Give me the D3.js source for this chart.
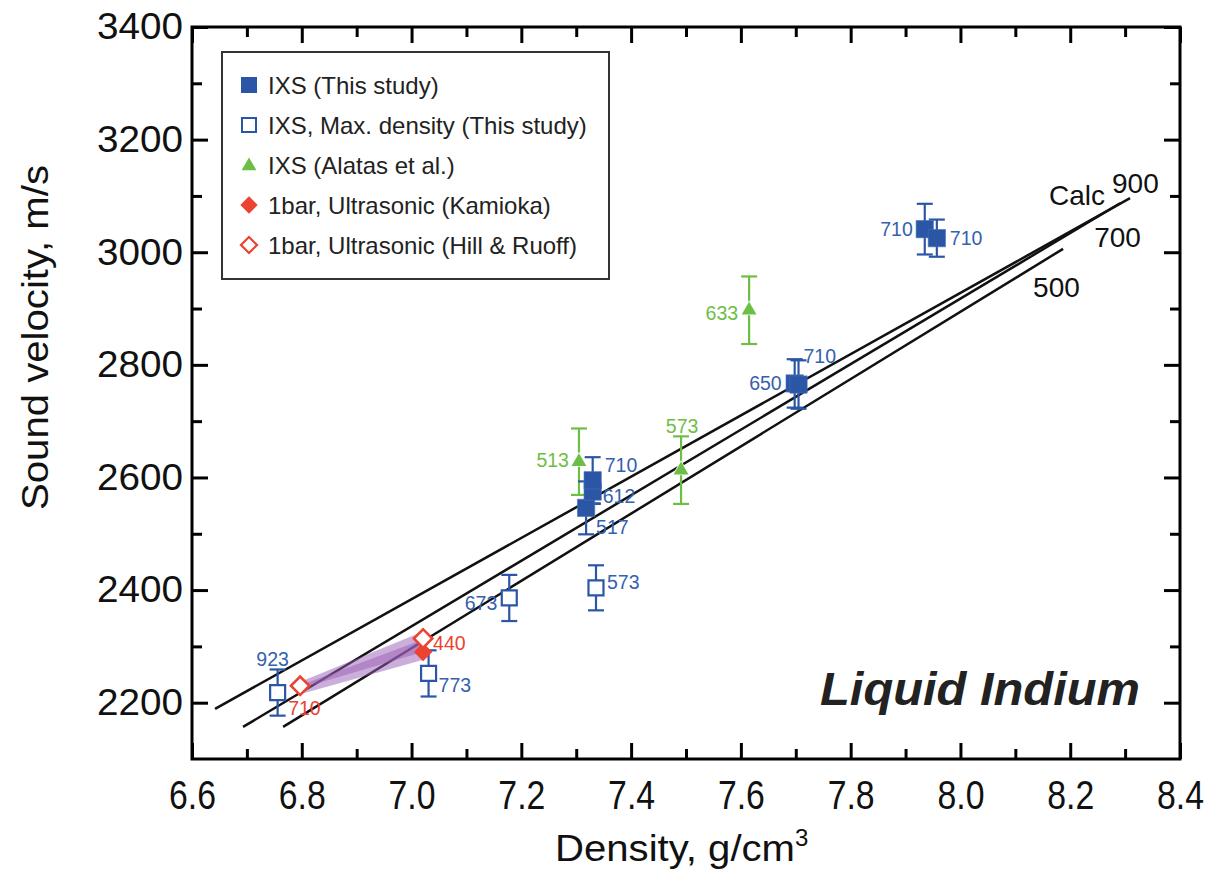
<!DOCTYPE html>
<html>
<head>
<meta charset="utf-8">
<script src="https://cdn.jsdelivr.net/npm/d3@7"></script>
<style>
  html, body { margin: 0; padding: 0; background: #fff; }
  svg { display: block; font-family: "Liberation Sans", Arial, Helvetica, sans-serif; }
</style>
</head>
<body>
<svg id="chart" width="1218" height="873"></svg>
<script>
// ---------------- DATA ----------------
const xMajorTicks = [6.6, 6.8, 7.0, 7.2, 7.4, 7.6, 7.8, 8.0, 8.2, 8.4];
const xMinorTicks = [6.7, 6.9, 7.1, 7.3, 7.5, 7.7, 7.9, 8.1, 8.3];
const yMajorTicks = [2200, 2400, 2600, 2800, 3000, 3200, 3400];
const yMinorTicks = [2300, 2500, 2700, 2900, 3100, 3300];

// IXS (This study) - filled squares
const ixsDensity  = [7.318, 7.330, 7.330, 7.698, 7.705, 7.935, 7.957];
const ixsVelocity = [2546, 2575, 2595, 2767, 2765, 3041, 3025];
const ixsError    = [47, 22, 41, 43, 43, 45, 33];
const ixsTemp     = ["517", "612", "710", "650", "710", "710", "710"];

// IXS, Max. density (This study) - open squares
const maxDensity  = [6.756, 7.031, 7.178, 7.336];
const maxVelocity = [2218, 2252, 2386, 2404];
const maxError    = [41, 41, 41, 40];
const maxTemp     = ["923", "773", "673", "573"];

// IXS (Alatas et al.) - triangles
const alatasDensity  = [7.305, 7.491, 7.615];
const alatasVelocity = [2628, 2613, 2897];
const alatasError    = [59, 60, 60];
const alatasTemp     = ["513", "573", "633"];

// 1bar ultrasonic (Kamioka) - filled diamond + band
const kamiokaDensity  = [7.021];
const kamiokaVelocity = [2290];
const bandDensity = [6.80, 7.02];
const bandAUpper  = [2238, 2326];
const bandALower  = [2226, 2290];
const bandBUpper  = [2232, 2312];
const bandBLower  = [2216, 2276];

// 1bar ultrasonic (Hill & Ruoff) - open diamonds
const hillDensity  = [6.797, 7.021];
const hillVelocity = [2230, 2314];
const hillTemp     = ["710", "440"];

// Calculated lines (temperature labels)
const calcTemps    = ["900", "700", "500"];
const calcStartD   = [6.642, 6.693, 6.766];
const calcStartV   = [2189, 2157, 2157];
const calcEndD     = [8.309, 8.291, 8.187];
const calcEndV     = [3096, 3087, 3006];

const legendLabels = [
  "IXS (This study)",
  "IXS, Max. density (This study)",
  "IXS (Alatas et al.)",
  "1bar, Ultrasonic (Kamioka)",
  "1bar, Ultrasonic (Hill & Ruoff)"
];

// ---------------- LAYOUT / STYLE ----------------
const BLUE = "#2b56a5", BLUE_TXT = "#3461ae", GREEN = "#6dbe45", RED = "#ec4232", PURPLE = "#9a5db6";
const ixsLabelPos    = [[10, 19, "start"], [10, 5, "start"], [12, -15, "start"], [-13, 0, "end"], [5, -28, "start"], [-12, 0, "end"], [13, 0, "start"]];
const maxLabelPos    = [[-5, -33, "middle"], [10, 12, "start"], [-12, 5, "end"], [11, -6, "start"]];
const alatasLabelPos = [[-10, -2, "end"], [1, -44, "middle"], [-11, 3, "end"]];
const hillLabelPos   = [[-12, 22, "start"], [10, 5, "start"]];

const svg = d3.select("#chart");
const x = d3.scaleLinear().domain([6.6, 8.4]).range([192, 1180]);
const y = d3.scaleLinear().domain([2100, 3400]).range([759, 27]);
const X0 = 192, X1 = 1180, Y0 = 27, Y1 = 759;

// ---------------- AXES ----------------
function styleAxis(g) {
  g.select(".domain").remove();
  g.selectAll(".tick line").attr("stroke", "#000").attr("stroke-width", 3);
}
const gxb = svg.append("g").attr("transform", `translate(0,${Y1})`)
  .call(d3.axisBottom(x).tickValues(xMajorTicks).tickSize(-16).tickPadding(22).tickFormat(d3.format(".1f")));
styleAxis(gxb);
gxb.selectAll("text").attr("font-size", 40).attr("fill", "#111")
  .attr("textLength", 47).attr("lengthAdjust", "spacingAndGlyphs")
  .attr("font-family", "'Liberation Sans', Arial, sans-serif");
svg.append("g").attr("transform", `translate(0,${Y1})`)
  .call(d3.axisBottom(x).tickValues(xMinorTicks).tickSize(-10).tickFormat(""))
  .call(styleAxis);
svg.append("g").attr("transform", `translate(0,${Y0})`)
  .call(d3.axisTop(x).tickValues(xMajorTicks).tickSize(-16).tickFormat("")).call(styleAxis);
svg.append("g").attr("transform", `translate(0,${Y0})`)
  .call(d3.axisTop(x).tickValues(xMinorTicks).tickSize(-10).tickFormat("")).call(styleAxis);
const gyl = svg.append("g").attr("transform", `translate(${X0},0)`)
  .call(d3.axisLeft(y).tickValues(yMajorTicks).tickSize(-16).tickPadding(9).tickFormat(d3.format("d")));
styleAxis(gyl);
gyl.selectAll("text").attr("font-size", 37).attr("fill", "#111")
  .attr("textLength", 86).attr("lengthAdjust", "spacingAndGlyphs")
  .attr("font-family", "'Liberation Sans', Arial, sans-serif");
svg.append("g").attr("transform", `translate(${X0},0)`)
  .call(d3.axisLeft(y).tickValues(yMinorTicks).tickSize(-10).tickFormat("")).call(styleAxis);
svg.append("g").attr("transform", `translate(${X1},0)`)
  .call(d3.axisRight(y).tickValues(yMajorTicks).tickSize(-16).tickFormat("")).call(styleAxis);
svg.append("g").attr("transform", `translate(${X1},0)`)
  .call(d3.axisRight(y).tickValues(yMinorTicks).tickSize(-10).tickFormat("")).call(styleAxis);

svg.append("rect").attr("x", X0).attr("y", Y0).attr("width", X1 - X0).attr("height", Y1 - Y0)
  .attr("fill", "none").attr("stroke", "#000").attr("stroke-width", 3);

svg.append("text").attr("transform", `translate(48,${(165 + 510) / 2}) rotate(-90)`)
  .attr("text-anchor", "middle").attr("font-size", 37).attr("fill", "#111")
  .attr("textLength", 345).attr("lengthAdjust", "spacingAndGlyphs")
  .text("Sound velocity, m/s");
const xt = svg.append("text").attr("x", 555).attr("y", 861).attr("font-size", 37).attr("fill", "#111");
xt.append("tspan").text("Density, g/cm").attr("textLength", 240).attr("lengthAdjust", "spacingAndGlyphs");
xt.append("tspan").text("3").attr("font-size", 24).attr("dy", -15);

// ---------------- CALC LINES ----------------
const gCalc = svg.append("g");
calcTemps.forEach((t, i) => {
  gCalc.append("line")
    .attr("x1", x(calcStartD[i])).attr("y1", y(calcStartV[i]))
    .attr("x2", x(calcEndD[i])).attr("y2", y(calcEndV[i]))
    .attr("stroke", "#111").attr("stroke-width", 2.5);
});
const calcLabelOff = [[-18, -5], [-26, 44], [-30, 48]];
calcTemps.forEach((t, i) => {
  gCalc.append("text").attr("x", x(calcEndD[i]) + calcLabelOff[i][0]).attr("y", y(calcEndV[i]) + calcLabelOff[i][1])
    .attr("font-size", 28).attr("fill", "#111").text(t);
});
gCalc.append("text").attr("x", x(calcEndD[0]) - 81).attr("y", y(calcEndV[0]) + 7)
  .attr("font-size", 28).attr("fill", "#111").text("Calc");

// ---------------- KAMIOKA BAND ----------------
const area = (lo, hi) => d3.area().x((d, i) => x(bandDensity[i])).y0((d, i) => y(lo[i])).y1((d, i) => y(hi[i]))(bandDensity);
svg.append("path").attr("d", area(bandALower, bandAUpper)).attr("fill", PURPLE).attr("fill-opacity", 0.5);
svg.append("path").attr("d", area(bandBLower, bandBUpper)).attr("fill", PURPLE).attr("fill-opacity", 0.5);

// ---------------- ERROR BARS ----------------
function errorBars(dens, vel, err, color) {
  const g = svg.append("g").attr("stroke", color).attr("stroke-width", 2.2);
  dens.forEach((d, i) => {
    const cx = x(d), ylo = y(vel[i] - err[i]), yhi = y(vel[i] + err[i]);
    g.append("line").attr("x1", cx).attr("x2", cx).attr("y1", ylo).attr("y2", yhi);
    g.append("line").attr("x1", cx - 8).attr("x2", cx + 8).attr("y1", ylo).attr("y2", ylo);
    g.append("line").attr("x1", cx - 8).attr("x2", cx + 8).attr("y1", yhi).attr("y2", yhi);
  });
}
errorBars(alatasDensity, alatasVelocity, alatasError, GREEN);
errorBars(maxDensity, maxVelocity, maxError, BLUE);
errorBars(ixsDensity, ixsVelocity, ixsError, BLUE);

// ---------------- MARKERS ----------------
const sq = d3.symbol(d3.symbolSquare);
const tri = d3.symbol(d3.symbolTriangle);
function labels(dens, vel, txt, pos, color) {
  dens.forEach((d, i) => {
    svg.append("text").attr("x", x(d) + pos[i][0]).attr("y", y(vel[i]) + pos[i][1])
      .attr("dy", "0.35em").attr("text-anchor", pos[i][2])
      .attr("font-size", 19.5).attr("fill", color).text(txt[i]);
  });
}
maxDensity.forEach((d, i) => {
  svg.append("path").attr("d", sq.size(225)()).attr("transform", `translate(${x(d)},${y(maxVelocity[i])})`)
    .attr("fill", "#fff").attr("stroke", BLUE).attr("stroke-width", 2.2);
});
alatasDensity.forEach((d, i) => {
  svg.append("path").attr("d", tri.size(95)()).attr("transform", `translate(${x(d)},${y(alatasVelocity[i])})`)
    .attr("fill", GREEN).attr("stroke", "#fff").attr("stroke-width", 1.5).attr("paint-order", "stroke");
});
ixsDensity.forEach((d, i) => {
  svg.append("path").attr("d", sq.size(300)()).attr("transform", `translate(${x(d)},${y(ixsVelocity[i])})`)
    .attr("fill", BLUE).attr("stroke", "#4a70b5").attr("stroke-width", 0.6);
});
kamiokaDensity.forEach((d, i) => {
  svg.append("path").attr("d", sq.size(170)()).attr("transform", `translate(${x(d)},${y(kamiokaVelocity[i])}) rotate(45)`)
    .attr("fill", RED);
});
hillDensity.forEach((d, i) => {
  svg.append("path").attr("d", sq.size(170)()).attr("transform", `translate(${x(d)},${y(hillVelocity[i])}) rotate(45)`)
    .attr("fill", "#fff").attr("stroke", RED).attr("stroke-width", 2.6);
});

labels(ixsDensity, ixsVelocity, ixsTemp, ixsLabelPos, BLUE_TXT);
labels(maxDensity, maxVelocity, maxTemp, maxLabelPos, BLUE_TXT);
labels(alatasDensity, alatasVelocity, alatasTemp, alatasLabelPos, GREEN);
labels(hillDensity, hillVelocity, hillTemp, hillLabelPos, RED);

// ---------------- TITLE ----------------
svg.append("text").attr("x", 820).attr("y", 705).attr("font-size", 46)
  .attr("font-weight", "bold").attr("font-style", "italic").attr("fill", "#222")
  .attr("textLength", 320).attr("lengthAdjust", "spacingAndGlyphs")
  .text("Liquid Indium");

// ---------------- LEGEND ----------------
const lg = svg.append("g");
lg.append("rect").attr("x", 222).attr("y", 52).attr("width", 387).attr("height", 227)
  .attr("fill", "#fff").attr("stroke", "#333").attr("stroke-width", 2);
const rowY = i => 85 + i * 40;
const mx = 249;
lg.append("path").attr("d", sq.size(256)()).attr("transform", `translate(${mx},${rowY(0)})`).attr("fill", BLUE);
lg.append("path").attr("d", sq.size(196)()).attr("transform", `translate(${mx},${rowY(1)})`)
  .attr("fill", "#fff").attr("stroke", BLUE).attr("stroke-width", 2);
lg.append("path").attr("d", tri.size(95)()).attr("transform", `translate(${mx},${rowY(2) + 1})`).attr("fill", GREEN);
lg.append("path").attr("d", sq.size(150)()).attr("transform", `translate(${mx},${rowY(3)}) rotate(45)`).attr("fill", RED);
lg.append("path").attr("d", sq.size(130)()).attr("transform", `translate(${mx},${rowY(4)}) rotate(45)`)
  .attr("fill", "#fff").attr("stroke", RED).attr("stroke-width", 2.2);
legendLabels.forEach((t, i) => {
  lg.append("text").attr("x", 268).attr("y", rowY(i) + 8.5).attr("font-size", 24).attr("fill", "#222").text(t);
});
</script>
</body>
</html>
